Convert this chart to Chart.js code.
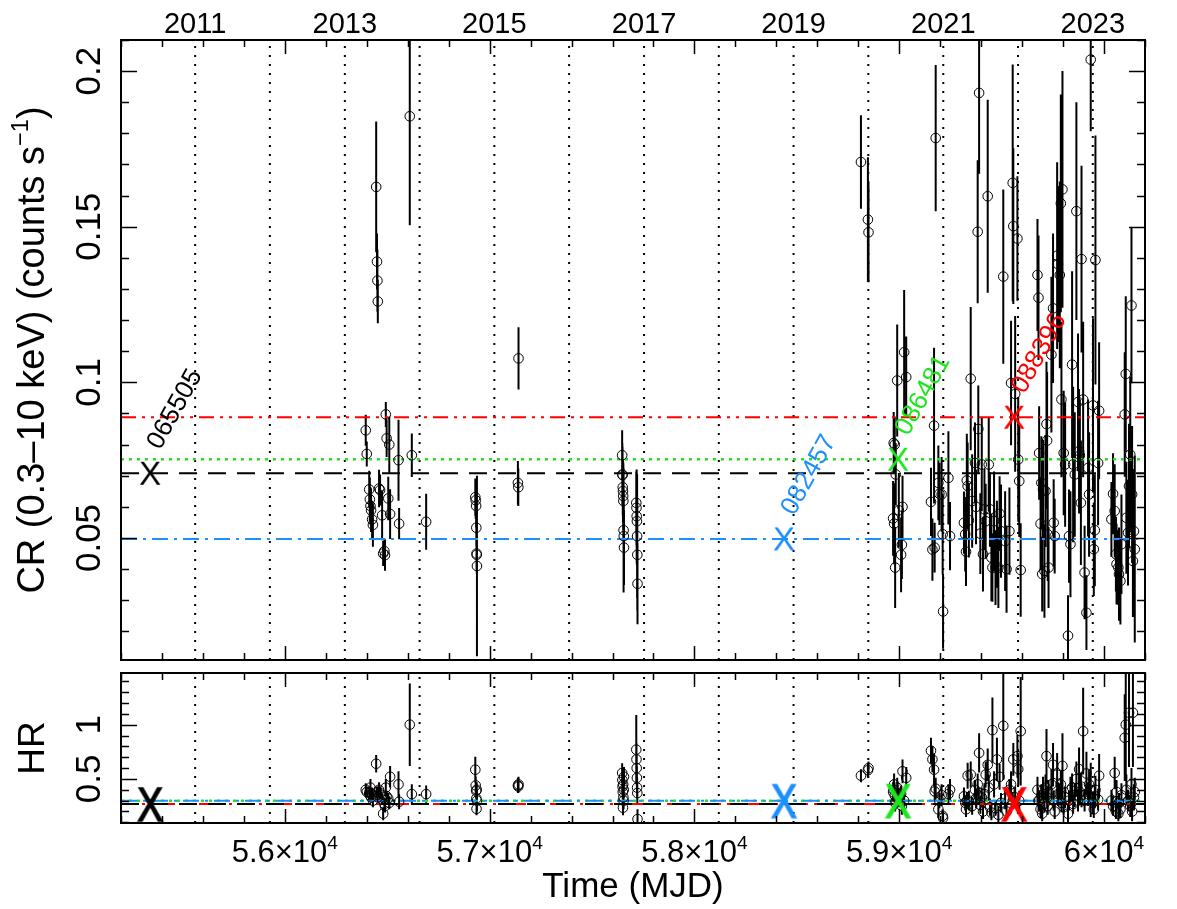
<!DOCTYPE html>
<html>
<head>
<script src="https://cdn.jsdelivr.net/npm/chart.js@4.4.0/dist/chart.umd.min.js"></script>
<style>
  body { margin: 0; background: #fff; }
  #wrap { position: relative; width: 1177px; height: 909px; }
  canvas { position: absolute; left: 0; top: 0; }
</style>
</head>
<body>
<div id="wrap">
  <canvas id="crChart" width="1177" height="909"></canvas>
  <canvas id="hrChart" width="1177" height="909"></canvas>
</div>
<script>
// observations (MJD, count rate, hardness ratio), one line per visit group
const mjd = [
  56395,56400,56412,56415,56418,56421,56426,56430,56446,56450,56452,56454,56460,56465,56475,56480,56486,56489,56493,56497,56505,56510,56514,56555,56558,56610,56620,56690,
  56930,56932,56934,56935,56936,56937,56938,
  57138,57140,57141,
  57647,57648,57649,57650,57651,57652,57653,57654,57655,57656,57716,57717,57718,57719,57720,57721,57722,
  58813,58847,58850,
  58970,58973,58975,58978,58980,58983,58990,58998,59009,59013,59016,59024,59034,
  59155,59162,59170,59173,59178,59191,59196,59207,59212,59214,59240,59248,
  59316,59322,59326,59330,59334,59340,59349,59356,59370,59375,59383,59386,59390,59396,59403,59409,59416,59422,59432,59437,59443,59450,59455,59463,59470,59477,59484,59490,59497,59508,59517,59524,59538,59546,59554,59557,59566,59577,59581,59586,59593,
  59675,59680,59683,59690,59694,59698,59702,59709,59714,59719,59722,59725,59729,59743,59751,59754,59759,59771,59775,59784,59789,59792,59797,59803,59810,59824,59829,59836,59844,59849,59857,59865,59873,59878,59882,59887,59890,59898,59905,59914,59922,59927,59935,59946,59950,59955,59958,59971,59976,
  60036,60044,60052,60058,60061,60070,60073,60080,60085,60101,60106,60109,60117,60122,60128,60134,60137,60141,60146,60150
];
const cr = [
  .0846,.0770,.0656,.0624,.0603,.0589,.0560,.0542,.1628,.1388,.1327,.1260,.0659,.0654,.0573,.0450,.0458,.0445,.0897,.0820,.0627,.0800,.0577,.0750,.0546,.1855,.0766,.0552,
  .0631,.0621,.0603,.0533,.0450,.0446,.0410,
  .0677,.0663,.1077,
  .0766,.0704,.0702,.0663,.0651,.0635,.0619,.0525,.0506,.0469,.0613,.0597,.0570,.0554,.0506,.0446,.0353,
  .1708,.1523,.1482,
  .0563,.0805,.0546,.0800,.0405,.0704,.1006,.0589,.0446,.0478,.0600,.1097,.1017,
  .0616,.0463,.0861,.0469,.1785,.0677,.0642,.0640,.0512,.0264,.0693,.0506,
  .0549,.0512,.0456,.0685,.0667,.0557,.1012,.0619,.0741,.0600,.1484,.0850,.1930,.0514,.0736,.0448,.0592,.0554,.1598,.0736,.0592,.0437,.0405,.0554,.0405,.0480,.0405,.0578,.0522,.1340,.0490,.0400,.0522,.0998,.1641,.1502,.0963,.1462,.0752,.0683,.0397,
  .1345,.1272,.0773,.0546,.0677,.0384,.0656,.0394,.0651,.0866,.0813,.0512,.0405,.1089,.1238,.0549,.0506,.1407,.1380,.1345,.1575,.0945,.1620,.0773,.0736,.0186,.0506,.0480,.1057,.0736,.0704,.1550,.0937,.0779,.0766,.0613,.1396,.0945,.0389,.0260,.0725,.0640,.2037,.0926,.0464,.0525,.1393,.0741,.0909,
  .0560,.0642,.0587,.0448,.0416,.0405,.0384,.0362,.0480,.0897,.1027,.0565,.0517,.0667,.0768,.1247,.0640,.0426,.0522,.0464
];
const crErr = [
  .005,.004,.006,.007,.006,.007,.006,.007,.021,.009,.010,.007,.006,.005,.008,.004,.004,.005,.004,.006,.007,.009,.008,.013,.005,.035,.007,.009,
  .006,.006,.007,.006,.005,.006,.029,
  .007,.006,.010,
  .008,.010,.009,.009,.010,.011,.012,.020,.015,.012,.010,.012,.015,.014,.020,.018,.013,
  .015,.020,.016,
  .012,.010,.013,.009,.013,.010,.018,.012,.012,.011,.010,.020,.013,
  .011,.010,.025,.008,.0235,.012,.010,.012,.013,.012,.015,.011,
  .010,.012,.011,.015,.014,.012,.023,.015,.013,.012,.023,.014,.026,.013,.015,.012,.013,.012,.031,.015,.012,.014,.011,.016,.012,.014,.013,.012,.015,.028,.016,.014,.014,.020,.038,.025,.025,.020,.020,.018,.015,
  .018,.020,.015,.015,.015,.012,.016,.015,.018,.020,.022,.015,.013,.025,.024,.014,.012,.030,.025,.030,.035,.025,.038,.020,.020,.013,.015,.017,.030,.025,.020,.035,.022,.020,.018,.020,.030,.025,.015,.012,.022,.020,.023,.028,.015,.018,.040,.020,.022,
  .012,.013,.015,.012,.013,.012,.015,.014,.016,.020,.025,.018,.017,.020,.025,.025,.022,.018,.020,.030
];
const hr = [
  .40,.38,.37,.35,.42,.33,.36,.30,.64,.38,.35,.33,.40,.37,.31,.18,.27,.25,.42,.34,.32,.28,.52,.45,.29,1.00,.36,.36,
  .585,.44,.39,.32,.225,.40,.30,
  .44,.43,.45,
  .555,.49,.43,.38,.235,.45,.33,.30,.40,.52,.77,.68,.60,.51,.42,.37,.13,
  .53,.58,.60,
  .38,.40,.45,.35,.28,.30,.42,.33,.36,.25,.57,.30,.51,
  .76,.68,.585,.385,.41,.22,.30,.35,.16,.14,.36,.40,
  .34,.28,.22,.30,.53,.30,.54,.25,.40,.32,.45,.35,.74,.26,.33,.20,.36,.54,.63,.42,.24,.19,.95,.45,.23,.68,.17,.52,.28,.99,.32,.20,.40,.45,.30,.68,.33,.71,.59,.30,.94,
  .40,.30,.30,.22,.35,.18,.40,.27,.42,.71,.33,.25,.38,.45,.63,.30,.20,.54,.36,.36,.45,.28,.62,.24,.33,.18,.30,.40,.42,.27,.35,.50,.30,.59,.38,.43,.35,.94,.30,.55,.36,.45,.40,.28,.22,.34,.40,.31,.53,
  .30,.25,.555,.20,.38,.18,.28,.22,.35,.88,1.00,.40,.30,1.11,.25,.45,.20,1.11,.33,.38
];
const hrErr = [
  .06,.05,.06,.05,.08,.05,.06,.06,.08,.05,.05,.04,.07,.06,.05,.06,.06,.06,.08,.05,.05,.06,.10,.12,.07,.38,.09,.08,
  .12,.08,.07,.06,.06,.07,.10,
  .07,.06,.07,
  .09,.10,.08,.07,.07,.08,.06,.08,.08,.09,.32,.15,.12,.11,.10,.10,.09,
  .06,.07,.06,
  .09,.10,.10,.10,.08,.08,.09,.09,.08,.08,.11,.10,.10,
  .12,.12,.15,.09,.10,.08,.07,.10,.06,.06,.09,.10,
  .08,.07,.07,.08,.12,.09,.12,.08,.09,.09,.10,.08,.18,.08,.09,.07,.10,.12,.15,.12,.08,.07,.30,.12,.07,.20,.08,.12,.09,.50,.10,.07,.10,.12,.08,.15,.10,.20,.15,.09,.50,
  .12,.10,.09,.08,.10,.07,.12,.08,.12,.25,.10,.08,.11,.14,.20,.09,.07,.20,.11,.10,.13,.09,.30,.08,.10,.08,.09,.12,.13,.09,.11,.16,.10,.20,.11,.13,.11,.40,.10,.20,.11,.14,.25,.10,.08,.11,.13,.10,.20,
  .10,.09,.15,.07,.11,.07,.09,.08,.11,.40,.50,.14,.10,.50,.10,.15,.09,.50,.12,.13
];

// reference observations marked with X
const refNames = ['065505', '082457', '086481', '088396'];
const refMjd = [55342, 58437, 58994, 59561];
const refCr = [0.0708, 0.0497, 0.0753, 0.0888];
const refHr = [0.27, 0.30, 0.30, 0.27];

// ticks
const yearMjd = [55562, 55927, 56293, 56658, 57023, 57388, 57754, 58119, 58484, 58849, 59215, 59580, 59945];
const yearLabels = ['2011', '', '2013', '', '2015', '', '2017', '', '2019', '', '2021', '', '2023'];
const mjdTicks = [56000, 57000, 58000, 59000, 60000];
const mjdTickLabels = ['5.6', '5.7', '5.8', '5.9', '6'];
const crTicks = [0.05, 0.1, 0.15, 0.2];
const crTickLabels = ['0.05', '0.1', '0.15', '0.2'];
const hrTicks = [0.5, 1];
const hrTickLabels = ['0.5', '1'];

const X_MIN = 55200, X_MAX = 60200;
const refColors = ['#000000', '#1e8fff', '#1ee61e', '#ff0000'];
const refDash = [[18, 11], [16, 6, 3, 6], [3, 5], [15, 6, 3, 6, 3, 6]];
const FONT = '"Liberation Sans", Arial, Helvetica, sans-serif';

// "X" glyph used as point style for the reference observations
function xGlyph(color, size, sx, stroke) {
  const c = document.createElement('canvas');
  const w = Math.ceil(size * 0.7 * sx) + 6, h = Math.ceil(size * 0.75) + 6;
  c.width = w; c.height = h;
  const g = c.getContext('2d');
  g.translate(w / 2, h / 2 + size * 0.358);
  g.scale(sx, 1);
  g.font = size + 'px ' + FONT;
  g.textAlign = 'center';
  g.fillStyle = color;
  g.fillText('X', 0, 0);
  if (stroke) {
    g.strokeStyle = color;
    g.lineWidth = stroke;
    g.strokeText('X', 0, 0);
  }
  return c;
}

// text with a raised small part, e.g. 10^4 or s^-1
function drawSupText(ctx, parts, size, x, y, align) {
  const widths = parts.map(p => {
    ctx.font = (p.sup ? size * 0.62 : size) + 'px ' + FONT;
    return ctx.measureText(p.t).width;
  });
  const total = widths.reduce((s, w) => s + w, 0);
  let cx = align === 'center' ? x - total / 2 : x;
  ctx.textAlign = 'left';
  parts.forEach((p, i) => {
    ctx.font = (p.sup ? size * 0.62 : size) + 'px ' + FONT;
    ctx.fillText(p.t, cx, p.sup ? y - size * 0.42 : y);
    cx += widths[i];
  });
}

function errorBars(values, errors) {
  return {
    id: 'errorBars',
    beforeDatasetsDraw(chart) {
      const { ctx, chartArea: a, scales: { x, y } } = chart;
      ctx.save();
      ctx.beginPath();
      ctx.rect(a.left, a.top, a.right - a.left, a.bottom - a.top);
      ctx.clip();
      ctx.strokeStyle = '#000';
      ctx.lineWidth = 2;
      ctx.beginPath();
      values.forEach((v, i) => {
        const px = x.getPixelForValue(mjd[i]);
        ctx.moveTo(px, y.getPixelForValue(v - errors[i]));
        ctx.lineTo(px, y.getPixelForValue(v + errors[i]));
      });
      ctx.stroke();
      ctx.restore();
    }
  };
}

function frame(cfg) {
  return {
    id: 'frame',
    afterDraw(chart) {
      const { ctx, chartArea: a, scales: { x, y } } = chart;
      ctx.save();
      ctx.strokeStyle = '#000';
      ctx.fillStyle = '#000';
      // inward ticks, all four sides
      ctx.lineWidth = 1.5;
      ctx.beginPath();
      for (let k = Math.ceil(X_MIN / 200); k * 200 <= X_MAX; k++) {
        const px = Math.round(x.getPixelForValue(k * 200)) + 0.5;
        const len = k % 5 === 0 ? 14 : 7;
        ctx.moveTo(px, a.bottom); ctx.lineTo(px, a.bottom - len);
        ctx.moveTo(px, a.top); ctx.lineTo(px, a.top + len);
      }
      for (let k = Math.ceil(y.min / cfg.minor - 1e-6); k * cfg.minor <= y.max + 1e-9; k++) {
        const py = Math.round(y.getPixelForValue(k * cfg.minor)) + 0.5;
        const len = k % cfg.every === 0 ? 16 : 8;
        ctx.moveTo(a.left, py); ctx.lineTo(a.left + len, py);
        ctx.moveTo(a.right, py); ctx.lineTo(a.right - len, py);
      }
      ctx.stroke();
      ctx.lineWidth = 2;
      ctx.strokeRect(a.left, a.top, a.right - a.left, a.bottom - a.top);

      // y tick labels, rotated
      ctx.textBaseline = 'alphabetic';
      cfg.ticks.forEach((v, i) => {
        ctx.save();
        ctx.translate(100, y.getPixelForValue(v));
        ctx.rotate(-Math.PI / 2);
        ctx.font = '35px ' + FONT;
        ctx.textAlign = 'center';
        ctx.fillText(cfg.labels[i], 0, 0);
        ctx.restore();
      });
      // y title
      ctx.save();
      ctx.translate(44, (a.top + a.bottom) / 2);
      ctx.rotate(-Math.PI / 2);
      drawSupText(ctx, cfg.title, cfg.titleSize, 0, 0, 'center');
      ctx.restore();

      if (cfg.years) {
        ctx.font = '29px ' + FONT;
        ctx.textAlign = 'center';
        yearMjd.forEach((m, i) => {
          if (yearLabels[i]) ctx.fillText(yearLabels[i], x.getPixelForValue(m), 33);
        });
      }
      if (cfg.mjdLabels) {
        mjdTicks.forEach((m, i) => {
          drawSupText(ctx, [{ t: mjdTickLabels[i] + '\u00d710' }, { t: '4', sup: true }], 31, x.getPixelForValue(m), 862, 'center');
        });
        ctx.font = '35px ' + FONT;
        ctx.textAlign = 'center';
        ctx.fillText('Time (MJD)', (a.left + a.right) / 2, 897);
      }
      ctx.restore();
    }
  };
}

const refLabels = {
  id: 'refLabels',
  afterDatasetsDraw(chart) {
    const { ctx, scales: { x, y } } = chart;
    ctx.save();
    ctx.font = '26px ' + FONT;
    ctx.textAlign = 'left';
    ctx.textBaseline = 'middle';
    refNames.forEach((name, i) => {
      ctx.save();
      ctx.translate(x.getPixelForValue(refMjd[i]) + 4, y.getPixelForValue(refCr[i]) - 26);
      ctx.rotate(-61 * Math.PI / 180);
      ctx.fillStyle = refColors[i];
      ctx.fillText(name, 0, 0);
      ctx.restore();
    });
    ctx.restore();
  }
};

function buildDatasets(values, refValues, yMin, yMax, glyphs) {
  const sets = [];
  sets.push({
    data: refMjd.map((m, i) => ({ x: m, y: refValues[i] })),
    pointStyle: glyphs,
    pointRadius: 12,
    showLine: false
  });
  sets.push({
    data: mjd.map((m, i) => ({ x: m, y: values[i] })),
    pointStyle: 'circle',
    pointRadius: 4.8,
    pointBorderWidth: 1,
    pointBorderColor: '#000',
    pointBackgroundColor: 'rgba(0,0,0,0)',
    showLine: false
  });
  refValues.forEach((v, i) => {
    sets.push({
      data: [{ x: X_MIN, y: v }, { x: X_MAX, y: v }],
      showLine: true,
      borderColor: refColors[i],
      borderWidth: i === 2 ? 2.5 : 2,
      borderDash: refDash[i],
      pointRadius: 0
    });
  });
  yearMjd.forEach(m => {
    sets.push({
      data: [{ x: m, y: yMin }, { x: m, y: yMax }],
      showLine: true,
      borderColor: '#000',
      borderWidth: 2,
      borderDash: [2, 7],
      pointRadius: 0
    });
  });
  return sets;
}

function makeChart(id, values, errors, refValues, yMin, yMax, padding, glyphs, frameCfg, extra) {
  return new Chart(document.getElementById(id), {
    type: 'scatter',
    data: { datasets: buildDatasets(values, refValues, yMin, yMax, glyphs) },
    options: {
      responsive: false,
      animation: false,
      events: [],
      layout: { padding: padding },
      plugins: { legend: { display: false }, tooltip: { enabled: false } },
      scales: {
        x: { type: 'linear', min: X_MIN, max: X_MAX, display: false },
        y: { type: 'linear', min: yMin, max: yMax, display: false }
      }
    },
    plugins: [errorBars(values, errors), frame(frameCfg)].concat(extra)
  });
}

makeChart('crChart', cr, crErr, refCr, 0.0108, 0.21,
  { left: 121, right: 32, top: 40, bottom: 249 },
  refColors.map(c => xGlyph(c, 33, 1, 0)),
  {
    minor: 0.01, every: 5, ticks: crTicks, labels: crTickLabels, years: true, titleSize: 38,
    title: [{ t: 'CR (0.3\u201310 keV) (counts s' }, { t: '\u22121', sup: true }, { t: ')' }]
  },
  [refLabels]);

makeChart('hrChart', hr, hrErr, refHr, 0.094, 1.476,
  { left: 121, right: 32, top: 673, bottom: 86 },
  refColors.map(c => xGlyph(c, 48, 0.8, 1.6)),
  {
    minor: 0.1, every: 5, ticks: hrTicks, labels: hrTickLabels, mjdLabels: true, titleSize: 37,
    title: [{ t: 'HR' }]
  },
  []);
</script>
</body>
</html>
